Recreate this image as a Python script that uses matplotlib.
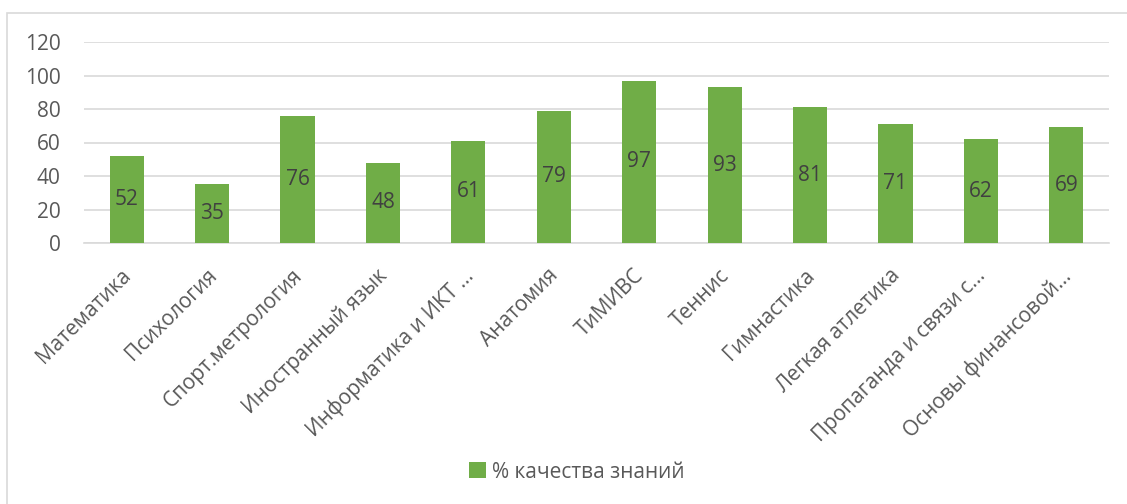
import matplotlib
matplotlib.use("Agg")
import matplotlib.pyplot as plt
import matplotlib.transforms as mtransforms
from matplotlib.patches import Rectangle

categories = ["Математика", "Психология", "Спорт.метрология", "Иностранный язык",
              "Информатика и ИКТ ...", "Анатомия", "ТиМИВС", "Теннис", "Гимнастика",
              "Легкая атлетика", "Пропаганда и связи с...", "Основы финансовой..."]
values = [52, 35, 76, 48, 61, 79, 97, 93, 81, 71, 62, 69]
series_name = "% качества знаний"
yticks = [0, 20, 40, 60, 80, 100, 120]

plt.rcParams['font.family'] = ['Open Sans', 'DejaVu Sans']
W, H = 1127, 504
fig = plt.figure(figsize=(W / 100, H / 100), dpi=100)
fig.patch.set_facecolor('white')

# chart border
fig.patches.append(Rectangle((7 / W, -0.01), 1.0, (H - 13) / H + 0.01,
                             transform=fig.transFigure, fill=False,
                             edgecolor='#D9D9D9', linewidth=1.2))

left, right = 84 / W, 1109 / W
top, bottom = 1 - 42 / H, 1 - 243 / H
ax = fig.add_axes([left, bottom, right - left, top - bottom])

x = list(range(len(categories)))
bars = ax.bar(x, values, width=0.4, color='#70AD47', zorder=3, label=series_name)
for xi, v in zip(x, values):
    ax.text(xi, v / 2, str(v), ha='center', va='center', fontsize=15, color='#404040', zorder=4)

ax.set_ylim(0, 120)
ax.set_xlim(-0.5, len(categories) - 0.5)
ax.set_yticks(yticks)
ax.set_yticklabels([str(t) for t in yticks], fontsize=15, color='#595959')
ax.yaxis.grid(True, color='#D9D9D9', linewidth=1.2, zorder=0)
ax.tick_params(axis='both', length=0)
ax.tick_params(axis='y', pad=17)
for s in ['top', 'right', 'left']:
    ax.spines[s].set_visible(False)
ax.spines['bottom'].set_color('#D9D9D9')
ax.spines['bottom'].set_linewidth(1.2)

ax.set_xticks(x)
ax.set_xticklabels(categories, rotation=45, ha='right', rotation_mode='anchor',
                   fontsize=15, color='#595959')
ax.tick_params(axis='x', pad=16)
shift = mtransforms.ScaledTranslation(-6 / 100, 0, fig.dpi_scale_trans)
for lab in ax.get_xticklabels():
    lab.set_transform(lab.get_transform() + shift)

leg = fig.legend(handles=[bars], labels=[series_name], loc='center',
                 bbox_to_anchor=(577 / W, 1 - 472 / H), frameon=False,
                 fontsize=15, labelcolor='#595959', handlelength=0.8, handleheight=0.8,
                 handletextpad=0.3)

fig.savefig('out.png', dpi=100, facecolor='white')
